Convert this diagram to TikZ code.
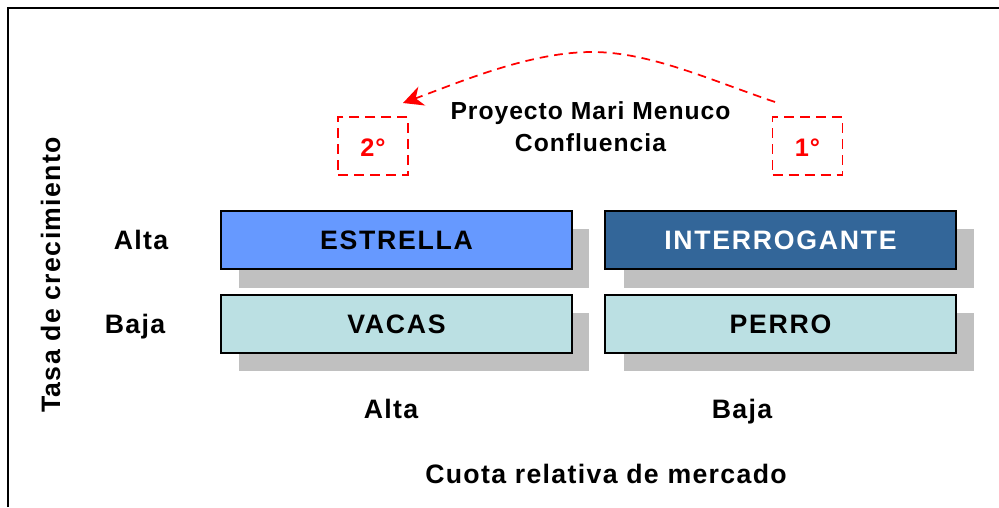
\documentclass[tikz,border=0pt]{standalone}
\usepackage{fontspec}
\setmainfont{Liberation Sans}
\newfontfamily\widea[LetterSpace=5]{Liberation Sans}
\newfontfamily\wideb[LetterSpace=4]{Liberation Sans}
\newfontfamily\widec[LetterSpace=6.5]{Liberation Sans}
\usetikzlibrary{arrows.meta}
\definecolor{shadowgray}{HTML}{C0C0C0}
\definecolor{starblue}{HTML}{6699FF}
\definecolor{darkblue}{HTML}{336699}
\definecolor{paleteal}{HTML}{BBE0E3}
\tikzset{
  x=0.75pt,y=-0.75pt,
  cell/.style={draw=black,line width=1.5pt,inner sep=0pt,minimum width=263pt,minimum height=43.5pt,text height=14.2pt,text depth=0pt,font=\widec\fontsize{20}{24}\selectfont\bfseries},
  shade/.style={fill=shadowgray,draw=none,inner sep=0pt,minimum width=263pt,minimum height=44pt},
  redbox/.style={draw=red,line width=1.3pt,dash pattern=on 7.5pt off 4.5pt,text=red,inner sep=0pt,minimum width=52.5pt,minimum height=43pt,text height=15pt,text depth=0pt,font=\wideb\fontsize{19}{22}\selectfont\bfseries},
  lab/.style={font=\widea\fontsize{20}{24}\selectfont\bfseries,inner sep=0pt,anchor=base},
}
\begin{document}
\begin{tikzpicture}
\useasboundingbox (0,0) rectangle (999,507);
\draw[black,line width=1.5pt] (8,507) -- (8,8) -- (999,8);
\node[shade] (s1) at (414,258.5) {};
\node[shade] (s2) at (799,258.5) {};
\node[shade] (s3) at (414,342) {};
\node[shade] (s4) at (799,342) {};
\node[cell,fill=starblue] (est) at (396.5,240) {ESTRELLA};
\node[cell,fill=darkblue,text=white] (int) at (780.5,240) {INTERROGANTE};
\node[cell,fill=paleteal] (vac) at (396.5,324) {VACAS};
\node[cell,fill=paleteal] (per) at (780.5,324) {PERRO};
\node[redbox] (two) at (373,146) {2°};
\node[redbox] (one) at (807.5,146) {1°};
\node[lab,align=center,font=\wideb\fontsize{18.5}{24}\selectfont\bfseries,anchor=center] (proj) at (590.5,127) {Proyecto Mari Menuco\\Confluencia};
\node[lab] (a1) at (141,249) {Alta};
\node[lab] (b1) at (135,333) {Baja};
\node[lab] (a2) at (391,418) {Alta};
\node[lab] (b2) at (742,418) {Baja};
\node[lab] (x) at (606,483) {Cuota relativa de mercado};
\node[lab,rotate=90] (y) at (60,275) {Tasa de crecimiento};
\coordinate (st) at (775,102);
\coordinate (pk) at (592,52);
\coordinate (en) at (403,103);
\draw[red,line width=1.3pt,dash pattern=on 6.5pt off 4.5pt,-{Stealth[length=15pt,width=15pt]}] (st) .. controls (710,80) and (650,52) .. (pk) .. controls (530,52) and (460,82) .. (en);
\end{tikzpicture}
\end{document}
